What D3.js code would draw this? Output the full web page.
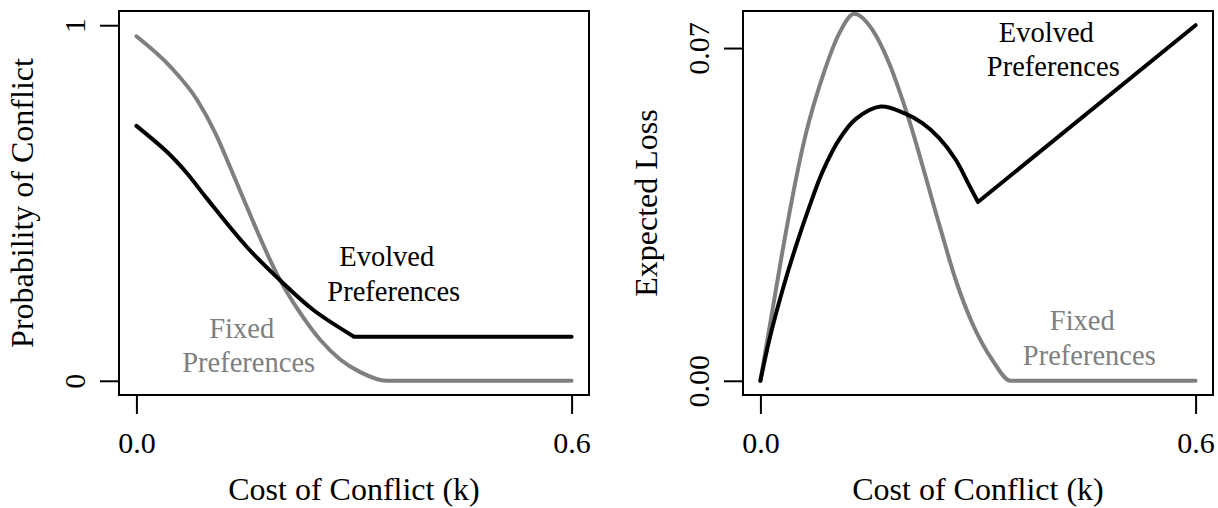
<!DOCTYPE html>
<html>
<head>
<meta charset="utf-8">
<script src="https://cdn.jsdelivr.net/npm/d3@7"></script>
<style>
  body { margin: 0; background: #fff; }
  svg { display: block; font-family: "Liberation Serif", "Times New Roman", serif; }
</style>
</head>
<body>
<div id="chart"></div>
<script>
// values, cost of conflict k on the x axis
const probFixedK = [0, 0.047, 0.084, 0.109, 0.129, 0.149, 0.161, 0.184, 0.2, 0.226, 0.253, 0.281, 0.308, 0.345, 0.6];
const probFixed  = [0.969, 0.883, 0.789, 0.696, 0.602, 0.505, 0.447, 0.341, 0.276, 0.190, 0.116, 0.060, 0.025, 0, 0];

const probEvolvedK = [0, 0.042, 0.07, 0.097, 0.152, 0.2, 0.244, 0.3, 0.6];
const probEvolved  = [0.717, 0.644, 0.583, 0.513, 0.377, 0.279, 0.199, 0.124, 0.124];

const lossFixedK = [0, 0.0169, 0.0307, 0.0629, 0.0857, 0.1087, 0.1294, 0.1545, 0.1775, 0.2005, 0.2463, 0.2693, 0.2921, 0.3197, 0.345, 0.6];
const lossFixed  = [0, 0.0151, 0.0275, 0.0521, 0.0640, 0.0731, 0.0772, 0.0738, 0.0668, 0.0570, 0.0330, 0.0212, 0.0121, 0.0044, 0, 0];

const lossEvolvedK = [0, 0.0124, 0.0307, 0.0491, 0.0674, 0.0857, 0.1087, 0.1317, 0.166, 0.1982, 0.2233, 0.2463, 0.2693, 0.2876, 0.3, 0.6];
const lossEvolved  = [0, 0.0087, 0.0192, 0.0284, 0.0366, 0.0440, 0.0508, 0.0551, 0.0577, 0.0563, 0.0542, 0.0511, 0.0465, 0.0412, 0.0376, 0.0748];

const kinkK = 0.3;   // evolved preferences switch regime here
const xTicks = [0, 0.6];
const probTicks = [0, 1];
const lossTicks = [0, 0.07];

const width = 1218, height = 508;
const grey = "#7f7f7f";

const svg = d3.select("#chart").append("svg")
    .attr("width", width)
    .attr("height", height);

// R style axis range: 4% extra on each side
const pad = (lo, hi) => { let d = (hi - lo) * 0.04; return [lo - d, hi + d]; };

function drawPanel(p) {
  let x = d3.scaleLinear().domain(pad(0, 0.6)).range([p.left, p.right]);
  let y = d3.scaleLinear().domain(pad(0, p.yMax)).range([p.bottom, p.top]);
  let g = svg.append("g");

  p.series.forEach(s => {
    let line = d3.line().x(d => x(d[0])).y(d => y(d[1])).curve(s.curve);
    let pts = d3.zip(s.k, s.v);
    let d;
    if (s.kink != null) {
      // split at the kink so the corner stays sharp
      let i = s.k.indexOf(s.kink);
      d = line(pts.slice(0, i + 1)) + line(pts.slice(i)).replace(/^M/, "L");
    } else {
      d = line(pts);
    }
    g.append("path")
      .attr("d", d)
      .attr("fill", "none")
      .attr("stroke", s.color)
      .attr("stroke-width", 4)
      .attr("stroke-linejoin", "round")
      .attr("stroke-linecap", "round");
  });

  // box
  g.append("rect")
    .attr("x", p.left).attr("y", p.top)
    .attr("width", p.right - p.left).attr("height", p.bottom - p.top)
    .attr("fill", "none").attr("stroke", "#000").attr("stroke-width", 2);

  let gx = g.append("g")
    .attr("transform", "translate(0," + p.bottom + ")")
    .call(d3.axisBottom(x).tickValues(xTicks).tickFormat(d3.format(".1f")).tickSize(19).tickSizeOuter(0));
  gx.attr("font-size", null).attr("font-family", null);
  gx.select(".domain").remove();
  gx.selectAll(".tick line").attr("stroke", "#000").attr("stroke-width", 2);
  gx.selectAll(".tick text")
    .attr("y", 58).attr("dy", null)
    .attr("fill", "#000")
    .style("font-size", "30px");

  let gy = g.append("g")
    .attr("transform", "translate(" + p.left + ",0)")
    .call(d3.axisLeft(y).tickValues(p.yTicks).tickFormat(p.yFormat).tickSize(19).tickSizeOuter(0));
  gy.attr("font-size", null).attr("font-family", null);
  gy.select(".domain").remove();
  gy.selectAll(".tick line").attr("stroke", "#000").attr("stroke-width", 2);
  gy.selectAll(".tick text")
    .attr("x", null).attr("dy", null)
    .attr("text-anchor", "middle")
    .attr("transform", "translate(-34,0) rotate(-90)")
    .attr("fill", "#000")
    .style("font-size", "30px");

  // axis titles
  g.append("text")
    .attr("x", (p.left + p.right) / 2).attr("y", 500)
    .attr("text-anchor", "middle")
    .style("font-size", "32px")
    .text("Cost of Conflict (k)");
  g.append("text")
    .attr("transform", "translate(" + (p.left - 86) + "," + (p.top + p.bottom) / 2 + ") rotate(-90)")
    .attr("text-anchor", "middle")
    .style("font-size", "32px")
    .text(p.ylab);

  // curve labels, two lines centred on a data point
  p.notes.forEach(n => {
    let t = g.append("text")
      .attr("text-anchor", "middle")
      .attr("fill", n.color)
      .style("font-size", "28.5px");
    n.lines.forEach((line, j) => {
      t.append("tspan")
        .attr("x", x(n.k) + (j === 0 ? -3.5 : 3.5))
        .attr("y", y(n.v) + (j === 0 ? -17 : 17.5))
        .text(line);
    });
  });
}

const catmull = d3.curveCatmullRom.alpha(0.5);

drawPanel({
  left: 119, right: 589, top: 11, bottom: 395,
  yMax: 1,
  yTicks: probTicks,
  yFormat: d3.format("d"),
  ylab: "Probability of Conflict",
  series: [
    {k: probFixedK, v: probFixed, color: grey, curve: d3.curveMonotoneX},
    {k: probEvolvedK, v: probEvolved, color: "#000", curve: catmull, kink: kinkK}
  ],
  notes: [
    {lines: ["Evolved", "Preferences"], k: 0.35, v: 0.274, color: "#000"},
    {lines: ["Fixed", "Preferences"], k: 0.150, v: 0.073, color: grey}
  ]
});

drawPanel({
  left: 743, right: 1213, top: 11, bottom: 395,
  yMax: d3.max(lossEvolved),
  yTicks: lossTicks,
  yFormat: d3.format(".2f"),
  ylab: "Expected Loss",
  series: [
    {k: lossFixedK, v: lossFixed, color: grey, curve: d3.curveMonotoneX},
    {k: lossEvolvedK, v: lossEvolved, color: "#000", curve: catmull, kink: kinkK}
  ],
  notes: [
    {lines: ["Evolved", "Preferences"], k: 0.399, v: 0.0677, color: "#000"},
    {lines: ["Fixed", "Preferences"], k: 0.4486, v: 0.00704, color: grey}
  ]
});
</script>
</body>
</html>
